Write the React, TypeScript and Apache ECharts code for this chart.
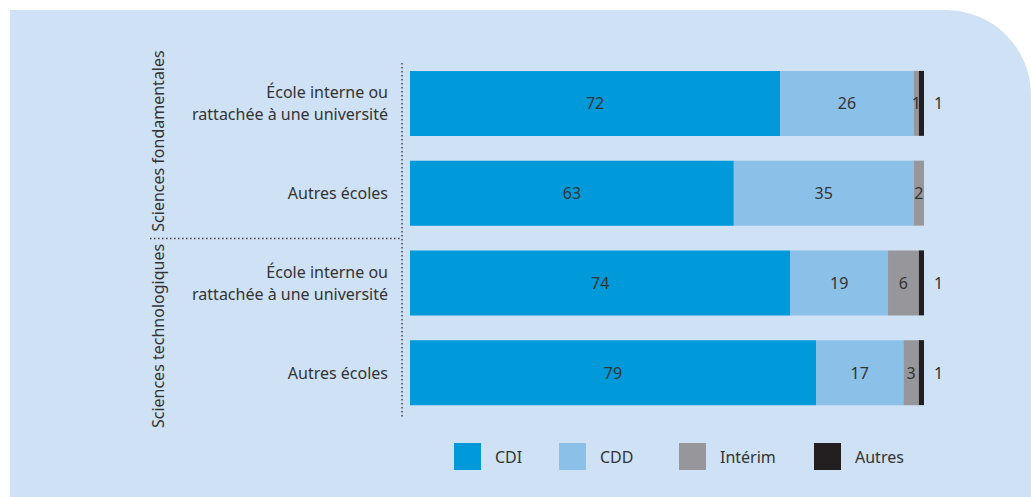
import React, { useEffect, useRef } from "react";
import * as echarts from "echarts";

const categories = [
  "École interne ou\nrattachée à une université",
  "Autres écoles",
  "École interne ou\nrattachée à une université ",
  "Autres écoles ",
];
const groups = ["Sciences fondamentales", "Sciences technologiques"];
const seriesNames = ["CDI", "CDD", "Intérim", "Autres"];
const cdi = [72, 63, 74, 79];
const cdd = [26, 35, 19, 17];
const interim = [1, 2, 6, 3];
const autres = [1, 0, 1, 1];
const colors = ["#0099da", "#8bc0e8", "#97979b", "#231f20"];

const FONT = "Noto Sans";
const TXT = "#333333";
const FS = 16;

export default function App() {
  const ref = useRef<HTMLDivElement>(null);
  useEffect(() => {
    document.body.style.margin = "0";
    const chart = echarts.init(ref.current!, null, { renderer: "svg" });
    const values = [cdi, cdd, interim, autres];
    const legendX = [454, 559, 679, 814];
    const option: any = {
      animation: false,
      textStyle: { fontFamily: FONT },
      grid: { left: 410, right: 107, top: 58.5, bottom: 79.5 },
      xAxis: { type: "value", min: 0, max: 100, show: false },
      yAxis: {
        type: "category",
        inverse: true,
        data: categories,
        axisTick: { show: false },
        splitLine: { show: false },
        axisLine: { show: false },
        axisLabel: {
          margin: 22,
          align: "right",
          color: TXT,
          fontSize: FS,
          lineHeight: 22,
          fontFamily: FONT,
          formatter: (v: string) => v.trim(),
        },
      },
      legend: seriesNames.map((n, i) => ({
        data: [n],
        left: legendX[i],
        top: 443,
        padding: 0,
        itemWidth: 27,
        itemHeight: 27,
        icon: "rect",
        selectedMode: false,
        textStyle: { color: TXT, fontSize: FS, fontFamily: FONT, padding: [7, 0, 0, 9] },
      })),
      series: seriesNames.map((n, i) => ({
        name: n,
        type: "bar",
        stack: "total",
        barWidth: 65,
        data: values[i],
        itemStyle: { color: colors[i] },
        label: {
          show: true,
          position: i === 3 ? "right" : "inside",
          distance: 10,
          color: TXT,
          fontSize: FS,
          fontFamily: FONT,
          formatter: (p: any) => (p.value ? String(p.value) : ""),
        },
      })),
      graphic: [
        {
          type: "rect",
          z: -10,
          silent: true,
          shape: { x: 10, y: 10, width: 1021, height: 487, r: [0, 85, 0, 0] },
          style: { fill: "#cfe1f4" },
        },
        {
          type: "line",
          silent: true,
          shape: { x1: 150, y1: 238.5, x2: 402, y2: 238.5 },
          style: { stroke: "#444", lineWidth: 1.5, lineDash: [1.5, 2.5] },
        },
        {
          type: "line",
          silent: true,
          shape: { x1: 402, y1: 63, x2: 402, y2: 417 },
          style: { stroke: "#444", lineWidth: 1.5, lineDash: [1.5, 2.5] },
        },
        {
          type: "text",
          x: 158,
          y: 141,
          rotation: Math.PI / 2,
          style: {
            text: groups[0],
            fill: TXT,
            fontSize: FS,
            fontFamily: FONT,
            align: "center",
            verticalAlign: "middle",
          },
        },
        {
          type: "text",
          x: 158,
          y: 336,
          rotation: Math.PI / 2,
          style: {
            text: groups[1],
            fill: TXT,
            fontSize: FS,
            fontFamily: FONT,
            align: "center",
            verticalAlign: "middle",
          },
        },
      ],
    };
    chart.setOption(option);
    return () => chart.dispose();
  }, []);
  return (
    <div
      ref={ref}
      style={{ position: "absolute", left: 0, top: 0, width: 1031, height: 497, background: "#ffffff" }}
    />
  );
}
